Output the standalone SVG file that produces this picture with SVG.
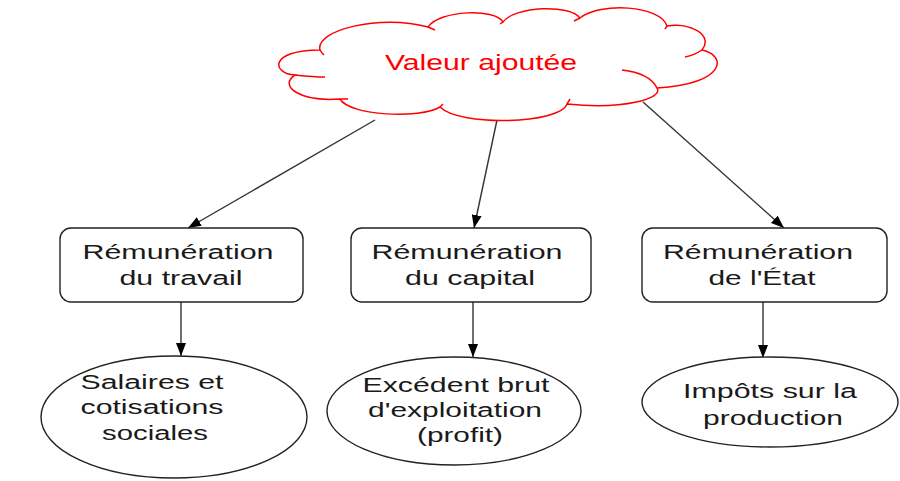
<svg xmlns="http://www.w3.org/2000/svg" width="900" height="481" viewBox="0 0 900 481">
<style>
text{font-family:"Liberation Sans",Arial,sans-serif;font-size:20px;fill:#1a1a1a}
.cloud{fill:#fff;stroke:#f00;stroke-width:1.5}
.hook{fill:none;stroke:#f00;stroke-width:1.5}
.ctext{fill:#f00;font-size:22px}
.box{fill:#fff;stroke:#222;stroke-width:1.4}
.ell{fill:#fff;stroke:#222;stroke-width:1.4}
.conn{stroke:#333;stroke-width:1.4;fill:none;marker-end:url(#ah)}
</style>
<defs>
<marker id="ah" markerUnits="userSpaceOnUse" markerWidth="14" markerHeight="10" refX="13" refY="5" orient="auto">
<path d="M0,0 L13,5 L0,10 z" fill="#000"/>
</marker>
</defs>
<rect width="900" height="481" fill="#fff"/>
<g id="connectors">
<line class="conn" x1="375" y1="120" x2="188" y2="228"/>
<line class="conn" x1="497" y1="120" x2="474" y2="228"/>
<line class="conn" x1="643" y1="102" x2="784" y2="228"/>
<line class="conn" x1="181" y1="302" x2="181" y2="356"/>
<line class="conn" x1="473" y1="302" x2="473" y2="357"/>
<line class="conn" x1="763" y1="302" x2="763" y2="358"/>
</g>
<g id="valeur-ajoutee">
<path class="cloud" d="M295,75 C272,74 268,50 320,50 C315,30 380,14 428,27 C440,10 495,8 503,22 C515,6 570,4 580,18 C600,2 660,5 667,26 C690,22 714,35 702,50 C727,55 727,84 657,88 C664,98 625,110 567,104 C560,124 460,127 440,107 C420,119 350,116 340,99 C300,102 278,86 295,75 Z"/>
<path class="hook" d="M295,75 C305,76 315,77 325,77 M320,50 C321,52 322,53 324,55 M428,27 L435,30 M503,22 L500,24 M580,18 L574,21 M667,26 L665,29 M702,50 C696,54 690,56 685,57 M657,88 C652,78 640,72 622,70 M567,104 L570,99 M440,107 L443,104 M340,99 L348,99"/>
<text class="ctext" x="481" y="70" text-anchor="middle" textLength="192" lengthAdjust="spacingAndGlyphs">Valeur ajoutée</text>
</g>
<g id="remuneration-travail">
<rect class="box" x="60" y="228" width="243" height="74" rx="11"/>
<text x="178" y="259" text-anchor="middle" textLength="191" lengthAdjust="spacingAndGlyphs">Rémunération</text>
<text x="181" y="285" text-anchor="middle" textLength="123" lengthAdjust="spacingAndGlyphs">du travail</text>
</g>
<g id="remuneration-capital">
<rect class="box" x="351" y="228" width="240" height="74" rx="11"/>
<text x="467" y="259" text-anchor="middle" textLength="191" lengthAdjust="spacingAndGlyphs">Rémunération</text>
<text x="470" y="285" text-anchor="middle" textLength="130" lengthAdjust="spacingAndGlyphs">du capital</text>
</g>
<g id="remuneration-etat">
<rect class="box" x="642" y="228" width="245" height="74" rx="11"/>
<text x="758" y="259" text-anchor="middle" textLength="190" lengthAdjust="spacingAndGlyphs">Rémunération</text>
<text x="762" y="285" text-anchor="middle" textLength="107" lengthAdjust="spacingAndGlyphs">de l'État</text>
</g>
<g id="salaires">
<ellipse class="ell" cx="174" cy="417" rx="133" ry="61"/>
<text x="152" y="389" text-anchor="middle" textLength="143" lengthAdjust="spacingAndGlyphs">Salaires et</text>
<text x="152" y="414" text-anchor="middle" textLength="143" lengthAdjust="spacingAndGlyphs">cotisations</text>
<text x="155" y="440" text-anchor="middle" textLength="106" lengthAdjust="spacingAndGlyphs">sociales</text>
</g>
<g id="excedent">
<ellipse class="ell" cx="454" cy="411" rx="127" ry="54"/>
<text x="456" y="392" text-anchor="middle" textLength="187" lengthAdjust="spacingAndGlyphs">Excédent brut</text>
<text x="455" y="417" text-anchor="middle" textLength="174" lengthAdjust="spacingAndGlyphs">d'exploitation</text>
<text x="460" y="442" text-anchor="middle" textLength="86" lengthAdjust="spacingAndGlyphs">(profit)</text>
</g>
<g id="impots">
<ellipse class="ell" cx="770" cy="402" rx="128" ry="45"/>
<text x="770" y="398" text-anchor="middle" textLength="174" lengthAdjust="spacingAndGlyphs">Impôts sur la</text>
<text x="773" y="425" text-anchor="middle" textLength="140" lengthAdjust="spacingAndGlyphs">production</text>
</g>
</svg>
